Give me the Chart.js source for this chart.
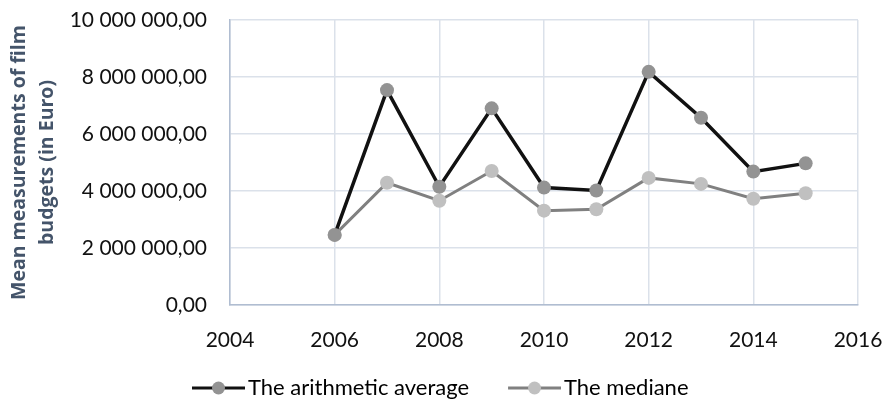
<!DOCTYPE html>
<html>
<head>
<meta charset="utf-8">
<script src="https://cdn.jsdelivr.net/npm/chart.js@4"></script>
<style>
  html, body { margin: 0; padding: 0; background: #fff; }
  #wrap { width: 886px; height: 402px; }
</style>
</head>
<body>
<div id="wrap"><canvas id="chart" width="886" height="402"></canvas></div>
<script>
const years = [2006, 2007, 2008, 2009, 2010, 2011, 2012, 2013, 2014, 2015];
const averageValues = [2460000, 7540000, 4150000, 6900000, 4120000, 4020000, 8180000, 6570000, 4680000, 4970000];
const medianValues = [2460000, 4290000, 3660000, 4700000, 3310000, 3360000, 4460000, 4250000, 3730000, 3920000];
const seriesNames = ['The arithmetic average', 'The mediane'];
const yTitle = ['Mean measurements of film', 'budgets (in Euro)'];

const FONT = 'Lato, "Open Sans", sans-serif';
const TICK_COLOR = '#111111';

function formatEuro(v) {
    return Math.round(v).toString().replace(/\B(?=(\d{3})+(?!\d))/g, ' ') + ',00';
}

// legend symbol: line with the marker in the middle, drawn in the right part of the image
const ICON_W = 90, LINE_LEN = 53;
function legendIcon(lineColor, dotColor) {
    const c = document.createElement('canvas');
    c.width = ICON_W;
    c.height = 16;
    const g = c.getContext('2d');
    g.strokeStyle = lineColor;
    g.lineWidth = 3;
    g.beginPath();
    g.moveTo(ICON_W - LINE_LEN, 8);
    g.lineTo(ICON_W, 8);
    g.stroke();
    g.fillStyle = dotColor;
    g.beginPath();
    g.arc(ICON_W - LINE_LEN / 2, 8, 6.5, 0, Math.PI * 2);
    g.fill();
    return c;
}

const series = [
    { label: seriesNames[0], values: averageValues, line: '#111111', dot: '#939393', width: 3.5 },
    { label: seriesNames[1], values: medianValues, line: '#808080', dot: '#c0c0c0', width: 3 }
];

// put the legend where the original has it
const placeLegend = {
    id: 'placeLegend',
    afterLayout(chart) {
        const lg = chart.legend;
        const pad = lg.options.labels.padding;
        const startX = (lg.left + pad + lg.right - lg.lineWidths[0]) / 2;
        const dx = 163 - startX;
        lg.left += dx;
        lg.right += dx;
        const dy = 367 - lg.top;
        lg.top += dy;
        lg.bottom += dy;
    }
};

new Chart(document.getElementById('chart').getContext('2d'), {
    type: 'line',
    data: {
        datasets: series.map(s => ({
            label: s.label,
            data: years.map((yr, i) => ({ x: yr, y: s.values[i] })),
            borderColor: s.line,
            borderWidth: s.width,
            backgroundColor: s.dot,
            pointBackgroundColor: s.dot,
            pointBorderColor: s.dot,
            pointBorderWidth: 0,
            pointRadius: 7,
            pointStyle: 'circle',
            tension: 0,
            fill: false
        }))
    },
    options: {
        responsive: false,
        animation: false,
        layout: { padding: 0 },
        plugins: {
            tooltip: { enabled: false },
            legend: {
                position: 'bottom',
                labels: {
                    usePointStyle: true,
                    pointStyleWidth: 74,
                    padding: 10,
                    color: TICK_COLOR,
                    font: { family: FONT, size: 22 },
                    generateLabels(chart) {
                        return chart.data.datasets.map((ds, i) => ({
                            text: ds.label,
                            pointStyle: legendIcon(series[i].line, series[i].dot),
                            fillStyle: ds.backgroundColor,
                            strokeStyle: ds.borderColor,
                            lineWidth: 0,
                            hidden: false,
                            datasetIndex: i
                        }));
                    }
                }
            }
        },
        scales: {
            x: {
                type: 'linear',
                min: 2004,
                max: 2016,
                ticks: {
                    stepSize: 2,
                    padding: 23,
                    maxRotation: 0,
                    color: TICK_COLOR,
                    font: { family: FONT, size: 21 },
                    callback: v => String(v)
                },
                grid: { color: '#dbe1ea', lineWidth: 1.5, drawTicks: false },
                border: { color: '#b0bdd1', width: 1.5 },
                afterFit(scale) {
                    scale.height = 55;
                    scale.paddingLeft = 0;
                    scale.paddingRight = 28;
                }
            },
            y: {
                min: 0,
                max: 10000000,
                ticks: {
                    stepSize: 2000000,
                    padding: 23,
                    color: TICK_COLOR,
                    font: { family: FONT, size: 21 },
                    callback: v => formatEuro(v)
                },
                grid: { color: '#dbe1ea', lineWidth: 1.5, drawTicks: false },
                border: { color: '#b0bdd1', width: 1.5 },
                title: {
                    display: true,
                    text: yTitle,
                    color: '#44546a',
                    font: { family: '"Open Sans", sans-serif', size: 19.5, weight: 'bold', lineHeight: 1.44 },
                    padding: { top: 5, bottom: 0 }
                },
                afterFit(scale) {
                    scale.width = 230;
                    scale.paddingTop = 20;
                    scale.paddingBottom = 0;
                }
            }
        }
    },
    plugins: [placeLegend]
});
</script>
</body>
</html>
